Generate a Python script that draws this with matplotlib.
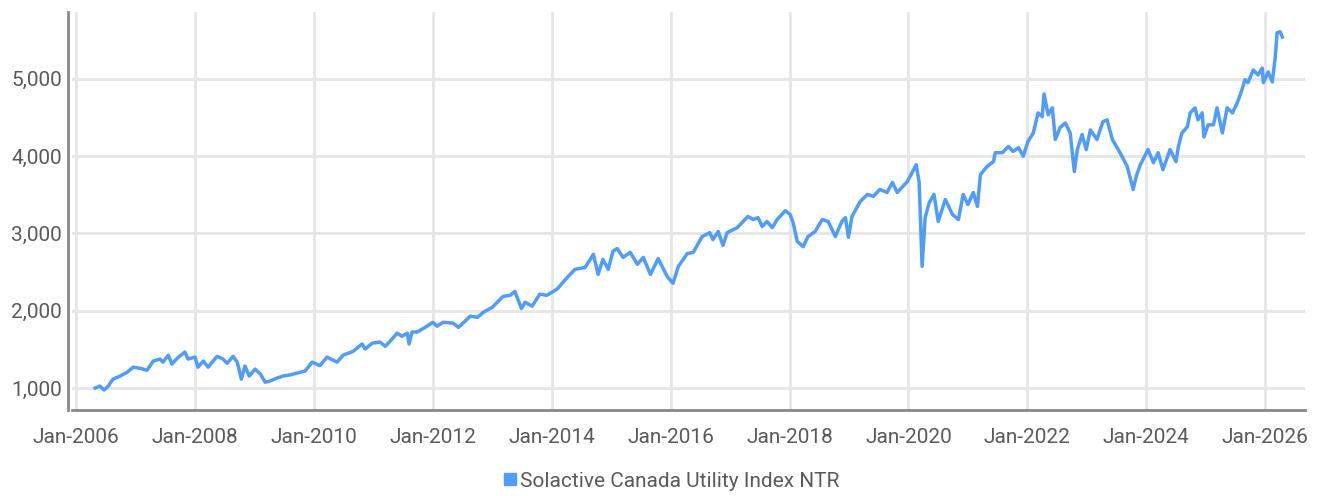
import numpy as np
import matplotlib
matplotlib.use("Agg")
import matplotlib.pyplot as plt
from matplotlib.lines import Line2D
from matplotlib.ticker import FuncFormatter

plt.rcParams['font.family'] = ['Roboto', 'DejaVu Sans']

# index level (decimal year, value)
years = [
    2006.32, 2006.40, 2006.47, 2006.54, 2006.62, 2006.74, 2006.86, 2006.96,
    2007.08, 2007.19, 2007.30, 2007.41, 2007.46, 2007.55, 2007.61, 2007.72,
    2007.83, 2007.88, 2008.00, 2008.05, 2008.14, 2008.22, 2008.37, 2008.47,
    2008.54, 2008.64, 2008.71, 2008.78, 2008.84, 2008.91, 2009.01, 2009.10,
    2009.18, 2009.26, 2009.38, 2009.48, 2009.60, 2009.77, 2009.85, 2009.97,
    2010.10, 2010.22, 2010.39, 2010.49, 2010.66, 2010.81, 2010.86, 2010.98,
    2011.11, 2011.20, 2011.28, 2011.40, 2011.48, 2011.57, 2011.60, 2011.65,
    2011.74, 2011.87, 2012.00, 2012.07, 2012.17, 2012.34, 2012.43, 2012.63,
    2012.75, 2012.85, 2013.00, 2013.18, 2013.30, 2013.38, 2013.49, 2013.55,
    2013.67, 2013.80, 2013.92, 2014.09, 2014.26, 2014.39, 2014.56, 2014.70,
    2014.78, 2014.86, 2014.95, 2015.03, 2015.10, 2015.20, 2015.32, 2015.44,
    2015.54, 2015.66, 2015.79, 2015.94, 2016.04, 2016.13, 2016.28, 2016.38,
    2016.53, 2016.66, 2016.71, 2016.80, 2016.88, 2016.95, 2017.12, 2017.30,
    2017.39, 2017.47, 2017.54, 2017.62, 2017.71, 2017.79, 2017.93, 2018.01,
    2018.06, 2018.13, 2018.23, 2018.31, 2018.43, 2018.55, 2018.65, 2018.77,
    2018.88, 2018.94, 2018.99, 2019.05, 2019.19, 2019.31, 2019.41, 2019.52,
    2019.64, 2019.73, 2019.81, 2019.98, 2020.06, 2020.13, 2020.18, 2020.23,
    2020.28, 2020.35, 2020.43, 2020.50, 2020.62, 2020.74, 2020.84, 2020.92,
    2021.00, 2021.09, 2021.16, 2021.21, 2021.32, 2021.43, 2021.46, 2021.58,
    2021.68, 2021.76, 2021.85, 2021.93, 2022.01, 2022.10, 2022.18, 2022.25,
    2022.28, 2022.35, 2022.42, 2022.47, 2022.55, 2022.64, 2022.72, 2022.79,
    2022.84, 2022.92, 2022.99, 2023.06, 2023.17, 2023.27, 2023.34, 2023.43,
    2023.51, 2023.59, 2023.68, 2023.78, 2023.83, 2023.90, 2024.03, 2024.12,
    2024.20, 2024.28, 2024.40, 2024.50, 2024.54, 2024.60, 2024.69, 2024.74,
    2024.82, 2024.87, 2024.94, 2024.97, 2025.04, 2025.13, 2025.19, 2025.28,
    2025.36, 2025.45, 2025.53, 2025.61, 2025.66, 2025.71, 2025.80, 2025.88,
    2025.95, 2025.97, 2026.05, 2026.12, 2026.17, 2026.20, 2026.25, 2026.29,
]
values = [
    1000, 1025, 975, 1025, 1115, 1155, 1205, 1270,
    1255, 1230, 1350, 1375, 1335, 1425, 1310, 1400,
    1465, 1375, 1400, 1270, 1350, 1270, 1410, 1375,
    1320, 1410, 1335, 1115, 1285, 1155, 1245, 1180,
    1075, 1090, 1130, 1155, 1170, 1205, 1220, 1335,
    1290, 1400, 1335, 1425, 1475, 1570, 1505, 1580,
    1595, 1540, 1605, 1710, 1670, 1710, 1570, 1725,
    1725, 1785, 1850, 1800, 1850, 1840, 1785, 1930,
    1915, 1980, 2045, 2185, 2200, 2250, 2030, 2110,
    2060, 2215, 2200, 2280, 2430, 2535, 2560, 2730,
    2470, 2665, 2535, 2770, 2805, 2690, 2755, 2600,
    2690, 2470, 2675, 2445, 2355, 2575, 2740, 2755,
    2960, 3010, 2920, 3025, 2845, 3010, 3075, 3220,
    3180, 3205, 3090, 3155, 3075, 3180, 3295, 3245,
    3140, 2895, 2830, 2960, 3025, 3180, 3155, 2960,
    3155, 3205, 2950, 3220, 3415, 3505, 3480, 3570,
    3530, 3660, 3530, 3670, 3785, 3890, 3660, 2575,
    3205, 3400, 3505, 3155, 3440, 3245, 3180, 3505,
    3375, 3530, 3350, 3760, 3865, 3930, 4045, 4045,
    4125, 4060, 4110, 4000, 4190, 4300, 4560, 4510,
    4805, 4535, 4625, 4215, 4370, 4430, 4300, 3800,
    4085, 4280, 4085, 4340, 4215, 4445, 4470, 4215,
    4110, 4000, 3865, 3570, 3735, 3890, 4085, 3915,
    4045, 3825, 4085, 3930, 4125, 4300, 4380, 4560,
    4625, 4470, 4560, 4250, 4405, 4405, 4625, 4300,
    4625, 4560, 4690, 4860, 4990, 4950, 5115, 5050,
    5140, 4950, 5090, 4960, 5285, 5595, 5610, 5540,
]

tick_years = list(range(2006, 2027, 2))
tick_labels = ["Jan-%d" % y for y in tick_years]
y_ticks = [1000, 2000, 3000, 4000, 5000]
series_name = "Solactive Canada Utility Index NTR"

line_color = "#4f9cf9"
text_color = "#5a5a5a"
grid_color = "#e6e6e6"

fig = plt.figure(figsize=(13.23, 4.96), dpi=100)
ax = fig.add_axes([0.0544, 0.1734, 0.932, 0.8024])

ax.plot(years, values, color=line_color, linewidth=2.5, zorder=3,
        solid_joinstyle="round")

ax.set_xlim(2005.93, 2026.67)
ax.set_ylim(716, 5865)
ax.set_xticks(tick_years, tick_labels)
ax.set_yticks(y_ticks)
ax.yaxis.set_major_formatter(FuncFormatter(lambda v, p: "{:,.0f}".format(v)))

ax.grid(True, color=grid_color, linewidth=2.0, zorder=0)
ax.set_axisbelow(True)

for s in ["top", "right"]:
    ax.spines[s].set_visible(False)
for s in ["left", "bottom"]:
    ax.spines[s].set_color("#888888")
    ax.spines[s].set_linewidth(2.0)
ax.spines["left"].set_position(("outward", 3))

ax.tick_params(axis="both", length=0, labelsize=15, colors=text_color)
ax.tick_params(axis="x", pad=13)
ax.tick_params(axis="y", pad=4)

handle = Line2D([], [], marker="s", linestyle="none", color=line_color,
                markersize=8)
fig.legend([handle], [series_name], loc="center", bbox_to_anchor=(0.507, 0.03),
           frameon=False, fontsize=15, handletextpad=0.1, handlelength=0.8,
           labelcolor=text_color)

fig.savefig("out.png", dpi=100)
